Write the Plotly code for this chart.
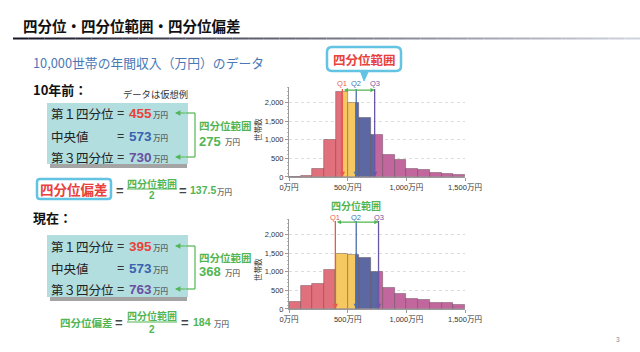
import plotly.graph_objects as go

W, H = 640, 352
JP = "Noto Sans CJK JP"
NUM = "Liberation Sans, Noto Sans CJK JP"

# ---------------- data ----------------
bin_edges = [0, 100, 200, 300, 400, 500, 600, 700, 800, 900, 1000, 1100, 1200, 1300, 1400, 1500]
counts_before = [15, 40, 220, 1000, 2280, 2000, 1600, 1140, 590, 470, 210, 180, 120, 75, 45]
counts_now = [190, 610, 680, 1060, 1470, 1450, 1380, 990, 570, 410, 280, 255, 165, 155, 110]
quart_before = [455, 573, 730]
quart_now = [395, 573, 763]
iqr_before, qd_before = 275, 137.5
iqr_now, qd_now = 368, 184
quart_names = ["第１四分位", "中央値", "第３四分位"]
x_ticks = [0, 500, 1000, 1500]
x_ticktext = ["0万円", "500万円", "1,000万円", "1,500万円"]
y_ticks = [0, 500, 1000, 1500, 2000]
y_ticktext = ["0", "500", "1,000", "1,500", "2,000"]

# ---------------- styles ----------------
BAR_COLORS = ["#e0707b", "#f6c862", "#5b68a1", "#c2679e"]
Q_COLORS = ["#e85a4f", "#4a6fb0", "#6c57a6"]
TXT_COLORS = ["#e8413c", "#3a62b0", "#6b4fa0"]
GREEN = "#52b553"
CYAN = "#62c3e3"
TEAL = "#b3dee0"
DARK = "#222222"
NOLINE = dict(color="rgba(0,0,0,0)", width=0)


def px(x):
    return x / W


def py(y):
    return 1 - y / H


def segments(edges, counts, q):
    out = []
    for i, c in enumerate(counts):
        lo, hi = edges[i], edges[i + 1]
        cuts = [lo] + [b for b in q if lo < b < hi] + [hi]
        for a, b in zip(cuts[:-1], cuts[1:]):
            mid = (a + b) / 2
            region = sum(mid > qq for qq in q)
            out.append((mid, b - a, c, region))
    return out


fig = go.Figure()
for k, (counts, q) in enumerate([(counts_before, quart_before), (counts_now, quart_now)]):
    segs = segments(bin_edges, counts, q)
    for r in range(4):
        s = [t for t in segs if t[3] == r]
        fig.add_trace(go.Bar(
            x=[t[0] for t in s], width=[t[1] for t in s], y=[t[2] for t in s],
            marker=dict(color=BAR_COLORS[r], line=dict(color="rgba(80,55,65,0.55)", width=0.7)),
            xaxis="x" if k == 0 else "x2", yaxis="y" if k == 0 else "y2",
            showlegend=False, hoverinfo="skip"))

YTOP = 2420
x_dom = [px(289), px(465)]
axis_common = dict(showline=True, linecolor="#9a9a9a", linewidth=1, ticks="outside", ticklen=3,
                   tickcolor="#9a9a9a", tickfont=dict(size=7.5, color="#333", family=NUM),
                   fixedrange=True)
ymin = dict(dtick=100, ticks="outside", ticklen=1.5, tickcolor="#b8b8b8", showgrid=False)
fig.update_layout(
    xaxis=dict(domain=x_dom, range=[0, 1500], tickvals=x_ticks, ticktext=x_ticktext,
               showgrid=False, zeroline=False, anchor="y", **axis_common),
    yaxis=dict(domain=[py(177), py(177 - YTOP * 0.03725)], range=[0, YTOP], tickvals=y_ticks,
               ticktext=y_ticktext, showgrid=True, gridcolor="#dcdcdc", griddash="dot",
               zeroline=False, anchor="x", minor=ymin, **axis_common),
    xaxis2=dict(domain=x_dom, range=[0, 1500], tickvals=x_ticks, ticktext=x_ticktext,
                showgrid=False, zeroline=False, anchor="y2", **axis_common),
    yaxis2=dict(domain=[py(309), py(309 - YTOP * 0.03725)], range=[0, YTOP], tickvals=y_ticks,
                ticktext=y_ticktext, showgrid=True, gridcolor="#dcdcdc", griddash="dot",
                zeroline=False, anchor="x2", minor=ymin, **axis_common),
)

ann = []
shapes = []


def txt(x, y, s, size, color=DARK, bold=False, xanchor="left", family=JP):
    ann.append(dict(xref="paper", yref="paper", x=px(x), y=py(y),
                    text=("<b>%s</b>" % s if bold else s), showarrow=False,
                    xanchor=xanchor, yanchor="middle", borderpad=0,
                    font=dict(size=size, color=color, family=family)))


def line(x0, y0, x1, y1, color, width=1.0):
    shapes.append(dict(type="line", xref="paper", yref="paper", x0=px(x0), y0=py(y0),
                       x1=px(x1), y1=py(y1), line=dict(color=color, width=width)))


def rect(x0, y0, x1, y1, fill):
    shapes.append(dict(type="rect", xref="paper", yref="paper", x0=px(x0), y0=py(y0),
                       x1=px(x1), y1=py(y1), fillcolor=fill, line=NOLINE, layer="below"))


def rrect(x0, y0, x1, y1, r, fill, lcolor, lw):
    def p(x, y):
        return "%f,%f" % (px(x), py(y))
    path = ("M " + p(x0 + r, y0) + " L " + p(x1 - r, y0) + " Q " + p(x1, y0) + " " + p(x1, y0 + r) +
            " L " + p(x1, y1 - r) + " Q " + p(x1, y1) + " " + p(x1 - r, y1) +
            " L " + p(x0 + r, y1) + " Q " + p(x0, y1) + " " + p(x0, y1 - r) +
            " L " + p(x0, y0 + r) + " Q " + p(x0, y0) + " " + p(x0 + r, y0) + " Z")
    shapes.append(dict(type="path", xref="paper", yref="paper", path=path, fillcolor=fill,
                       line=dict(color=lcolor, width=lw)))


def arrow_px(x, y, ax, ay, color, width=1.2, side="end"):
    ann.append(dict(xref="paper", yref="paper", x=px(x), y=py(y), ax=ax, ay=ay, text="",
                    showarrow=True, arrowhead=2, arrowsize=0.9, arrowwidth=width,
                    arrowcolor=color, arrowside=side))


# ---------------- title ----------------
txt(22, 25, "四分位・四分位範囲・四分位偏差", 14.5, "#111", bold=True)
n = 40
c0, c1 = (22, 22, 40), (205, 210, 220)
for i in range(n):
    t = i / (n - 1)
    col = "rgb(%d,%d,%d)" % tuple(int(a + (b - a) * t) for a, b in zip(c0, c1))
    line(13 + (640 - 13) * i / n, 38.5, 13 + (640 - 13) * (i + 1) / n, 38.5, col, 2)
txt(32, 63, "10,000世帯の年間収入（万円）のデータ", 12.8, "#4a78b5")
txt(615, 339, "3", 6.5, "#888", family=NUM)

# ---------------- left panels ----------------
panels = [
    dict(head="10年前：", hy=89, box=(47, 103, 188, 164), rows=(113, 136, 157),
         q=quart_before, iqr=iqr_before, iqry=(125, 141)),
    dict(head="現在：", hy=218, box=(47, 235, 188, 297), rows=(246, 268, 289),
         q=quart_now, iqr=iqr_now, iqry=(257, 271)),
]
for P in panels:
    txt(32, P["hy"], P["head"], 13, "#111", bold=True)
    bx0, by0, bx1, by1 = P["box"]
    rect(bx0 + 3, by1 - 1, bx1 - 1, by1 + 4, "rgba(90,90,90,0.55)")
    rect(bx0, by0, bx1, by1, TEAL)
    for i, (name, v) in enumerate(zip(quart_names, P["q"])):
        yy = P["rows"][i]
        txt(50, yy, name, 12.5, DARK)
        txt(116, yy, "=", 12.5, "#333", family=NUM)
        txt(128, yy, str(v), 13.5, TXT_COLORS[i], bold=True, family=NUM)
        txt(152, yy + 1, "万円", 7.5, "#333")
    # bracket
    r0, r2 = P["rows"][0], P["rows"][2]
    line(186, r0, 195, r0, GREEN, 1.2)
    line(195, r0, 195, r2, GREEN, 1.2)
    line(186, r2, 195, r2, GREEN, 1.2)
    arrow_px(175, r0, 12, 0, GREEN)
    arrow_px(175, r2, 12, 0, GREEN)
    txt(198, P["iqry"][0], "四分位範囲", 10.5, GREEN, bold=True)
    txt(198, P["iqry"][1], str(P["iqr"]), 13, GREEN, bold=True, family=NUM)
    txt(224, P["iqry"][1] + 1, "万円", 7.5, "#333")

txt(122, 94, "データは仮想例", 9.3, "#333")

# quartile deviation (before)
rrect(37, 179, 111, 199, 3, "white", CYAN, 2.5)
txt(74, 189, "四分位偏差", 13.5, "#e8413c", bold=True, xanchor="center")
txt(115, 190, "=", 13, "#444", bold=True, family=NUM)
txt(152, 183, "四分位範囲", 10, GREEN, bold=True, xanchor="center")
line(127, 189, 177, 189, GREEN, 1.2)
txt(152, 196, "2", 10, GREEN, bold=True, xanchor="center", family=NUM)
txt(178, 190, "=", 13, "#444", bold=True, family=NUM)
txt(189, 190, str(qd_before), 10.5, GREEN, bold=True, family=NUM)
txt(216, 191, "万円", 7.5, "#333")

# quartile deviation (now)
txt(59, 322, "四分位偏差", 10.5, GREEN, bold=True)
txt(114, 322, "=", 13, "#444", bold=True, family=NUM)
txt(152, 315, "四分位範囲", 10, GREEN, bold=True, xanchor="center")
line(127, 322, 177, 322, GREEN, 1.2)
txt(152, 329, "2", 10, GREEN, bold=True, xanchor="center", family=NUM)
txt(180, 322, "=", 13, "#444", bold=True, family=NUM)
txt(192, 322, str(qd_now), 10.5, GREEN, bold=True, family=NUM)
txt(213, 323, "万円", 7.5, "#333")

# ---------------- chart annotations ----------------
for k, q in enumerate([quart_before, quart_now]):
    xr, yr = ("x", "y") if k == 0 else ("x2", "y2")
    qy = 83 if k == 0 else 217
    for i, qq in enumerate(q):
        ann.append(dict(xref=xr, yref=yr, x=qq, y=0, ax=qq, ay=2400, axref=xr, ayref=yr,
                        text="", showarrow=True, arrowhead=2, arrowsize=0.8, arrowwidth=1.3,
                        arrowcolor=Q_COLORS[i]))
        ann.append(dict(xref=xr, yref="paper", x=qq, y=py(qy),
                        text="Q%d" % (i + 1), showarrow=False, xanchor="center", yanchor="middle",
                        borderpad=0, font=dict(size=7.5, color=Q_COLORS[i], family=NUM)))
    ann.append(dict(xref=xr, yref=yr, x=q[2], y=2335, ax=q[0], ay=2335, axref=xr, ayref=yr,
                    text="", showarrow=True, arrowhead=2, arrowsize=0.7, arrowwidth=1.2,
                    arrowcolor=GREEN, arrowside="end+start"))
    ann.append(dict(xref="paper", yref="paper", x=px(257), y=py(130 if k == 0 else 270),
                    text="世帯数", textangle=-90, showarrow=False, xanchor="center",
                    yanchor="middle", font=dict(size=7.5, color="#333", family=JP)))

# callout (top)
shapes.append(dict(type="path", xref="paper", yref="paper",
                   path="M %f,%f L %f,%f L %f,%f Z" % (px(360), py(70), px(369), py(70), px(364), py(81)),
                   fillcolor=CYAN, line=dict(color=CYAN, width=1)))
rrect(327, 47, 401, 71, 5, "white", CYAN, 2.5)
txt(364, 59, "四分位範囲", 12.5, "#e8413c", bold=True, xanchor="center")
# bottom label
txt(356, 205, "四分位範囲", 10, GREEN, bold=True, xanchor="center")

fig.update_layout(
    width=W, height=H, margin=dict(l=0, r=0, t=0, b=0), template="none",
    paper_bgcolor="white", plot_bgcolor="white", barmode="overlay", bargap=0,
    annotations=ann, shapes=shapes, showlegend=False,
)
fig.write_html("out.html")
